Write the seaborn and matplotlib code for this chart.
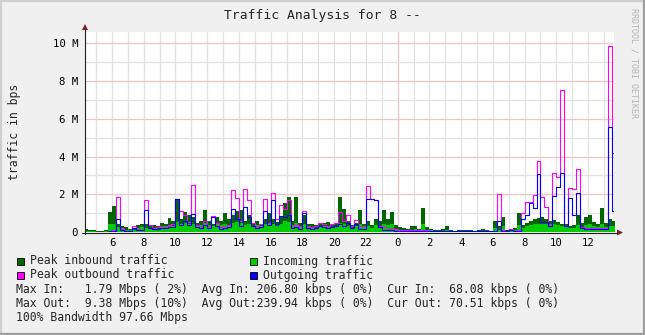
import numpy as np
import matplotlib
matplotlib.use("Agg")
import matplotlib.pyplot as plt
from matplotlib.lines import Line2D
from matplotlib.patches import Polygon, Rectangle
import seaborn as sns

sns.set_style("white")
plt.rcParams['font.family'] = ['DejaVu Sans Mono', 'DejaVu Sans']

# ---------------- data (Mbps, 15-minute bins starting 04:15) ----------------
t_start = 4.25      # hours since midnight of day 1
t_step = 0.25       # hours per bin

peak_in = [
    0.15, 0.08, 0.12, 0.05, 0.03, 0.08, 1.08, 1.40, 0.45, 0.30,
    0.25, 0.15, 0.20, 0.35, 0.45, 0.40, 0.30, 0.35, 0.30, 0.50,
    0.45, 0.74, 0.60, 1.75, 0.70, 1.05, 0.90, 0.80, 0.50, 0.60,
    1.15, 0.60, 0.45, 0.80, 0.60, 1.00, 0.70, 0.90, 1.10, 1.15,
    0.60, 0.90, 0.50, 0.60, 0.45, 0.70, 1.00, 0.70, 0.55, 0.80,
    1.55, 1.85, 0.60, 1.85, 0.50, 0.90, 0.45, 0.40, 0.35, 0.45,
    0.50, 0.55, 0.40, 0.45, 1.85, 1.20, 0.60, 0.35, 0.50, 1.18,
    0.40, 0.60, 0.35, 0.70, 0.60, 1.17, 0.70, 1.08, 0.35, 0.25,
    0.20, 0.15, 0.30, 0.30, 0.15, 1.26, 0.25, 0.15, 0.10, 0.10,
    0.15, 0.32, 0.10, 0.05, 0.08, 0.08, 0.10, 0.08, 0.05, 0.12,
    0.15, 0.12, 0.05, 0.60, 0.30, 0.80, 0.10, 0.15, 0.20, 1.03,
    0.35, 0.50, 0.60, 0.70, 0.75, 0.80, 0.70, 0.60, 0.65, 0.55,
    0.45, 0.40, 0.30, 0.35, 0.90, 0.50, 0.80, 0.90, 0.55, 0.45,
    1.25, 0.50, 0.70, 0.60]

avg_in = [
    0.05, 0.03, 0.05, 0.02, 0.02, 0.04, 0.40, 0.45, 0.25, 0.15,
    0.12, 0.10, 0.12, 0.20, 0.25, 0.20, 0.15, 0.20, 0.15, 0.25,
    0.25, 0.35, 0.30, 0.55, 0.40, 0.50, 0.45, 0.40, 0.30, 0.35,
    0.50, 0.35, 0.30, 0.40, 0.35, 0.45, 0.35, 0.50, 0.55, 0.50,
    0.35, 0.45, 0.30, 0.35, 0.30, 0.40, 0.50, 0.40, 0.30, 0.40,
    0.60, 0.55, 0.35, 0.50, 0.30, 0.45, 0.25, 0.25, 0.20, 0.25,
    0.30, 0.30, 0.25, 0.25, 0.50, 0.45, 0.30, 0.20, 0.30, 0.45,
    0.25, 0.30, 0.20, 0.35, 0.30, 0.45, 0.35, 0.40, 0.15, 0.12,
    0.10, 0.08, 0.12, 0.15, 0.08, 0.45, 0.10, 0.08, 0.05, 0.05,
    0.06, 0.12, 0.04, 0.03, 0.04, 0.04, 0.05, 0.04, 0.03, 0.05,
    0.06, 0.05, 0.03, 0.20, 0.10, 0.30, 0.05, 0.06, 0.10, 0.35,
    0.20, 0.30, 0.35, 0.40, 0.40, 0.45, 0.40, 0.35, 0.40, 0.35,
    0.30, 0.25, 0.20, 0.20, 0.35, 0.25, 0.35, 0.40, 0.30, 0.25,
    0.45, 0.25, 0.30, 0.30]

peak_out = [
    0.02, 0.02, 0.02, 0.02, 0.02, 0.02, 0.05, 0.10, 1.84, 0.20,
    0.05, 0.05, 0.30, 0.15, 0.10, 1.72, 0.35, 0.20, 0.25, 0.30,
    0.30, 0.35, 0.40, 1.75, 1.10, 0.90, 0.55, 2.48, 0.35, 0.30,
    0.60, 0.30, 0.85, 0.50, 0.25, 0.30, 0.35, 2.23, 1.80, 0.60,
    2.28, 1.70, 0.50, 0.30, 0.40, 1.75, 0.50, 2.05, 0.70, 1.45,
    1.20, 1.70, 0.30, 0.40, 0.25, 1.10, 0.30, 0.25, 0.30, 0.50,
    0.45, 0.30, 0.40, 0.50, 1.05, 0.60, 0.90, 0.30, 0.65, 0.30,
    0.30, 2.42, 1.75, 1.72, 0.30, 0.25, 0.20, 0.20, 0.15, 0.10,
    0.10, 0.10, 0.08, 0.08, 0.08, 0.10, 0.08, 0.05, 0.05, 0.05,
    0.05, 0.05, 0.05, 0.05, 0.05, 0.05, 0.05, 0.05, 0.05, 0.05,
    0.05, 0.05, 0.05, 0.05, 2.03, 0.10, 0.05, 0.15, 0.05, 0.10,
    1.00, 1.60, 1.60, 1.95, 3.74, 1.87, 1.30, 0.40, 3.15, 2.94,
    7.53, 0.30, 2.35, 2.26, 3.32, 0.25, 0.20, 0.20, 0.20, 0.20,
    0.20, 0.20, 9.87, 4.17]

avg_out = [
    0.02, 0.02, 0.02, 0.02, 0.02, 0.02, 0.03, 0.05, 0.69, 0.10,
    0.05, 0.05, 0.20, 0.10, 0.08, 1.17, 0.20, 0.15, 0.15, 0.20,
    0.20, 0.25, 0.25, 1.75, 0.35, 0.60, 0.35, 0.95, 0.25, 0.20,
    0.35, 0.20, 0.80, 0.30, 0.15, 0.20, 0.25, 1.22, 0.70, 0.30,
    1.33, 0.80, 0.30, 0.20, 0.25, 1.10, 0.35, 1.70, 0.45, 0.85,
    0.80, 0.90, 0.20, 0.25, 0.15, 1.00, 0.20, 0.15, 0.20, 0.30,
    0.25, 0.20, 0.25, 0.30, 0.45, 0.30, 0.50, 0.20, 0.40, 0.15,
    0.15, 1.75, 1.75, 1.70, 0.25, 0.10, 0.10, 0.10, 0.05, 0.05,
    0.05, 0.05, 0.05, 0.05, 0.05, 0.05, 0.05, 0.04, 0.04, 0.04,
    0.03, 0.03, 0.03, 0.03, 0.03, 0.03, 0.03, 0.03, 0.03, 0.03,
    0.03, 0.03, 0.03, 0.03, 0.60, 0.05, 0.05, 0.10, 0.05, 0.05,
    0.70, 0.90, 1.55, 1.27, 3.06, 0.55, 0.55, 0.30, 1.90, 2.40,
    3.15, 0.30, 1.79, 0.90, 2.05, 0.20, 0.15, 0.15, 0.15, 0.15,
    0.15, 0.15, 5.59, 1.10]

x_tick_hours = list(range(6, 37, 2))
y_tick_values = [0, 2, 4, 6, 8, 10]
y_tick_labels = ["0", "2 M", "4 M", "6 M", "8 M", "10 M"]

title = "Traffic Analysis for 8 --"
legend_items = [("Peak inbound traffic", "#006600"), ("Incoming traffic", "#00CC00"),
                ("Peak outbound traffic", "#FF00FF"), ("Outgoing traffic", "#0000FF")]
stats_lines = [
    "Max In:   1.79 Mbps ( 2%)  Avg In: 206.80 kbps ( 0%)  Cur In:  68.08 kbps ( 0%)",
    "Max Out:  9.38 Mbps (10%)  Avg Out:239.94 kbps ( 0%)  Cur Out: 70.51 kbps ( 0%)",
    "100% Bandwidth 97.66 Mbps",
]

# ---------------- figure ----------------
W, H = 645, 335
fig = plt.figure(figsize=(W / 100, H / 100), dpi=100, facecolor="#F0F0F0")


def fx(x):
    return x / W


def fy(y):
    return 1 - y / H


x_left_px, x_right_px = 85, 613.5
y_bottom_px, y_top_px = 232, 32
ax = fig.add_axes([fx(x_left_px), fy(y_bottom_px),
                   (x_right_px - x_left_px) / W, (y_bottom_px - y_top_px) / H])
ax.set_facecolor("white")

n = len(peak_in)
t = t_start + t_step * np.arange(n + 1)


def ext(v):
    v = list(v)
    return np.array(v + [v[-1]])


xmin, xmax = 4.30, 37.60
ymax = 10.6
ax.set_xlim(xmin, xmax)
ax.set_ylim(0, ymax)

# grid (minor: every hour / every 1 M; major: midnight / every 2 M)
for h in range(5, 38):
    col = "#F0C4C4" if h % 24 == 0 else "#E2E2E2"
    ax.axvline(h, color=col, lw=0.9, zorder=0.5)
for m in range(1, 11):
    col = "#F0C4C4" if m % 2 == 0 else "#E2E2E2"
    ax.axhline(m, color=col, lw=0.9, zorder=0.5)

ax.fill_between(t, ext(peak_in), step="post", color="#006600", lw=0, zorder=1)
ax.fill_between(t, ext(avg_in), step="post", color="#00CC00", lw=0, zorder=2)
sns.lineplot(x=t, y=ext(peak_out), drawstyle="steps-post", color="#FF00FF",
             lw=0.8, estimator=None, ax=ax, zorder=3)
sns.lineplot(x=t, y=ext(avg_out), drawstyle="steps-post", color="#0000FF",
             lw=0.8, estimator=None, ax=ax, zorder=4)

for s in ax.spines.values():
    s.set_visible(False)

ax.set_xticks(x_tick_hours)
ax.set_xticklabels([str(h % 24) for h in x_tick_hours])
ax.set_yticks(y_tick_values)
ax.set_yticklabels(y_tick_labels)
ax.tick_params(axis="both", length=0, labelsize=7.7, colors="black")
ax.tick_params(axis="x", pad=4.5)
ax.tick_params(axis="y", pad=5)
ax.set_xlabel("")
ax.set_ylabel("")

# axes with arrows
axis_col = "#1F1F1F"
arrow_col = "#7F1F1F"
fig.add_artist(Line2D([fx(85), fx(85)], [fy(234), fy(29)], color=axis_col, lw=0.8))
fig.add_artist(Line2D([fx(82), fx(618)], [fy(232.5), fy(232.5)], color=axis_col, lw=0.8))
fig.add_artist(Polygon([(fx(82), fy(30)), (fx(88), fy(30)), (fx(85), fy(24))],
                       closed=True, color=arrow_col, lw=0))
fig.add_artist(Polygon([(fx(617), fy(229.5)), (fx(617), fy(235.5)), (fx(623), fy(232.5))],
                       closed=True, color=arrow_col, lw=0))

# texts
fig.text(fx(322), fy(16), title, ha="center", va="center", fontsize=9.4)
fig.text(fx(15), fy(132), "traffic in bps", ha="center", va="center",
         rotation=90, fontsize=8.3)
fig.text(fx(634), fy(63), "RRDTOOL / TOBI OETIKER", ha="center", va="center",
         rotation=270, fontsize=6, color="#B4B4B4")

# legend
sq_pos = [(16.5, 261), (250, 261), (16.5, 275), (250, 275)]
for (label, col), (sx, sy) in zip(legend_items, sq_pos):
    fig.add_artist(Rectangle((fx(sx), fy(sy + 3.5)), 7 / W, 7 / H,
                             facecolor=col, edgecolor="black", lw=0.6))
    fig.text(fx(sx + 13), fy(sy), label, ha="left", va="center", fontsize=8.3)

for i, line in enumerate(stats_lines):
    fig.text(fx(16), fy(289 + 14 * i), line, ha="left", va="center", fontsize=8.3)

# 3D frame
fig.add_artist(Line2D([0, 1], [fy(0.5), fy(0.5)], color="#CFCFCF", lw=1.6))
fig.add_artist(Line2D([fx(0.5), fx(0.5)], [0, 1], color="#CFCFCF", lw=1.6))
fig.add_artist(Line2D([0, 1], [fy(334), fy(334)], color="#9E9E9E", lw=1.6))
fig.add_artist(Line2D([fx(644), fx(644)], [0, 1], color="#9E9E9E", lw=1.6))

fig.savefig("out.png", dpi=100, facecolor=fig.get_facecolor())
